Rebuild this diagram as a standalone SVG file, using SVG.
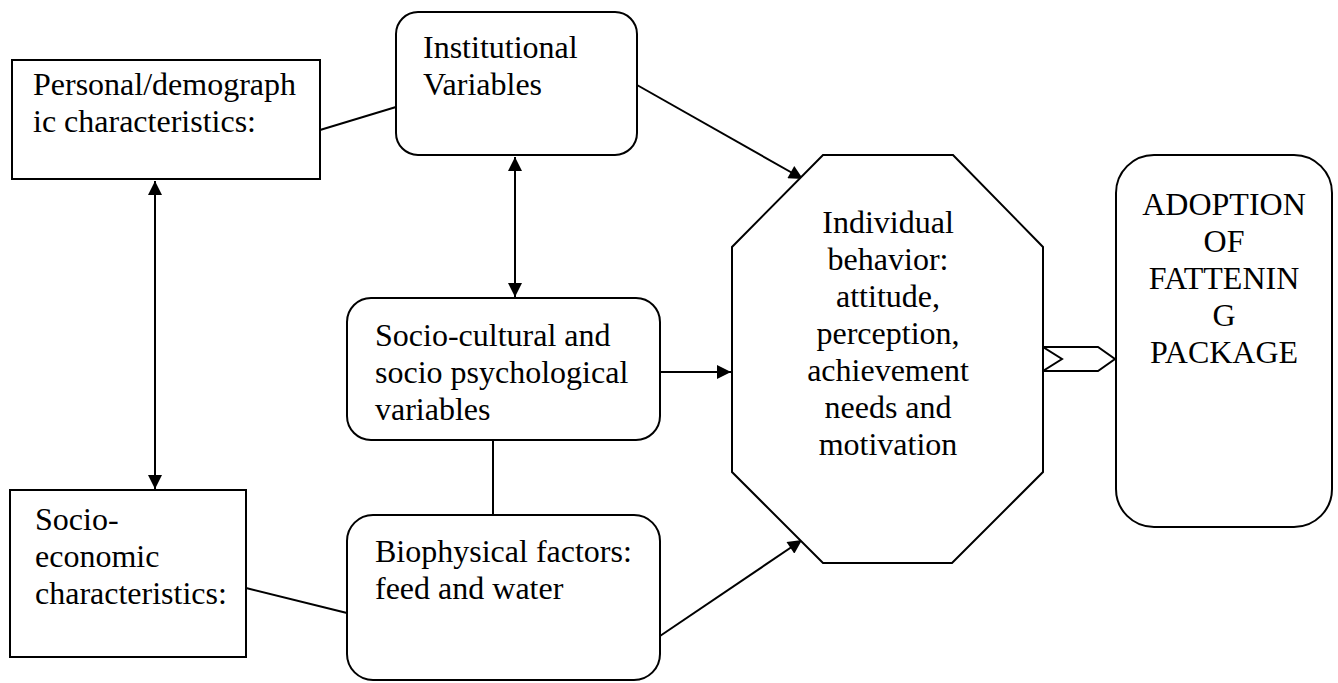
<svg xmlns="http://www.w3.org/2000/svg" width="1338" height="683" viewBox="0 0 1338 683">
<defs>
<style>
.box{fill:#fff;stroke:#000;stroke-width:2}
.t{font-family:"Liberation Serif","Times New Roman",serif;font-size:32px;fill:#000}
.c{text-anchor:middle}
.ln{stroke:#000;stroke-width:2;fill:none}
</style>
<marker id="ah" viewBox="0 0 14 14" refX="14" refY="7" markerWidth="15" markerHeight="14" markerUnits="userSpaceOnUse" orient="auto-start-reverse">
<path d="M0,0 L14,7 L0,14 Z" fill="#000"/>
</marker>
</defs>
<rect width="1338" height="683" fill="#fff"/>
<g id="connectors">
<line class="ln" x1="320" y1="130" x2="396" y2="107"/>
<line class="ln" x1="637" y1="85" x2="803" y2="179" marker-end="url(#ah)"/>
<line class="ln" x1="515" y1="157" x2="515" y2="297" marker-start="url(#ah)" marker-end="url(#ah)"/>
<line class="ln" x1="155" y1="181" x2="155" y2="489" marker-start="url(#ah)" marker-end="url(#ah)"/>
<line class="ln" x1="660" y1="372" x2="731" y2="372" marker-end="url(#ah)"/>
<line class="ln" x1="493" y1="440" x2="493" y2="515"/>
<line class="ln" x1="246" y1="588" x2="347" y2="613"/>
<line class="ln" x1="660" y1="636" x2="802" y2="540" marker-end="url(#ah)"/>
<polygon class="box" points="1043,347 1098,347 1115,359 1098,371 1043,371 1062,359"/>
</g>
<g id="personal">
<rect class="box" x="12" y="60" width="308" height="119"/>
<text class="t" x="33" y="95">Personal/demograph</text>
<text class="t" x="33" y="132">ic characteristics:</text>
</g>
<g id="institutional">
<rect class="box" x="396" y="12" width="241" height="143" rx="22"/>
<text class="t" x="423" y="58">Institutional</text>
<text class="t" x="423" y="95">Variables</text>
</g>
<g id="sociocultural">
<rect class="box" x="347" y="298" width="313" height="142" rx="24"/>
<text class="t" x="375" y="346">Socio-cultural and</text>
<text class="t" x="375" y="383">socio psychological</text>
<text class="t" x="375" y="420">variables</text>
</g>
<g id="socioeconomic">
<rect class="box" x="10" y="490" width="236" height="167"/>
<text class="t" x="35" y="530">Socio-</text>
<text class="t" x="35" y="567">economic</text>
<text class="t" x="35" y="604">characteristics:</text>
</g>
<g id="biophysical">
<rect class="box" x="347" y="515" width="313" height="165" rx="26"/>
<text class="t" x="375" y="562">Biophysical factors:</text>
<text class="t" x="375" y="599">feed and water</text>
</g>
<g id="individual">
<polygon class="box" points="823,155 953,155 1043,247 1043,472 952,563 823,563 732,472 732,247"/>
<text class="t c" x="888" y="233">Individual</text>
<text class="t c" x="888" y="270">behavior:</text>
<text class="t c" x="888" y="307">attitude,</text>
<text class="t c" x="888" y="344">perception,</text>
<text class="t c" x="888" y="381">achievement</text>
<text class="t c" x="888" y="418">needs and</text>
<text class="t c" x="888" y="455">motivation</text>
</g>
<g id="adoption">
<rect class="box" x="1116" y="155" width="216" height="372" rx="38"/>
<text class="t c" x="1224" y="215">ADOPTION</text>
<text class="t c" x="1224" y="252">OF</text>
<text class="t c" x="1224" y="289">FATTENIN</text>
<text class="t c" x="1224" y="326">G</text>
<text class="t c" x="1224" y="363">PACKAGE</text>
</g>
</svg>
